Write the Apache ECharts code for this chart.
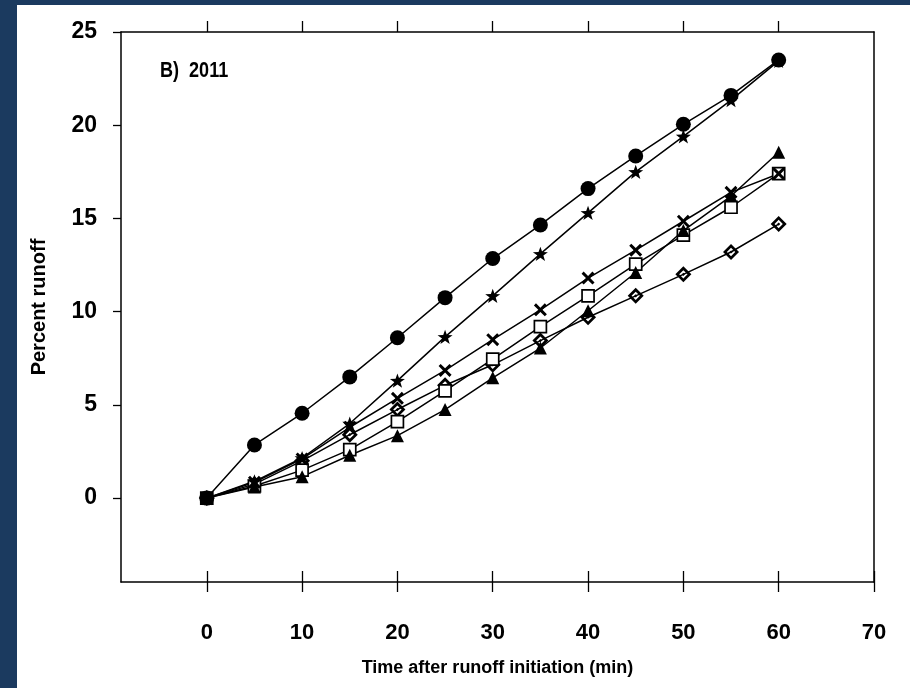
<!DOCTYPE html>
<html>
<head>
<meta charset="utf-8">
<script src="https://cdn.jsdelivr.net/npm/echarts@6/dist/echarts.min.js"></script>
<style>html,body{margin:0;padding:0;background:#fff;}#c{width:910px;height:688px;}</style>
</head>
<body>
<div id="c"></div>
<script>
var times = [0, 5, 10, 15, 20, 25, 30, 35, 40, 45, 50, 55, 60];
var circleVals   = [0, 2.85, 4.55, 6.5, 8.6, 10.75, 12.85, 14.65, 16.6, 18.35, 20.05, 21.6, 23.5];
var starVals     = [0, 0.9, 2.15, 4.0, 6.3, 8.65, 10.85, 13.1, 15.3, 17.5, 19.4, 21.35, 23.45];
var crossVals    = [0, 0.85, 2.1, 3.8, 5.35, 6.85, 8.5, 10.1, 11.8, 13.3, 14.85, 16.4, 17.4];
var squareVals   = [0, 0.65, 1.5, 2.6, 4.1, 5.75, 7.45, 9.2, 10.85, 12.55, 14.1, 15.6, 17.4];
var triangleVals = [0, 0.6, 1.15, 2.3, 3.35, 4.75, 6.45, 8.05, 10.05, 12.1, 14.35, 16.2, 18.55];
var diamondVals  = [0, 0.75, 2.0, 3.4, 4.75, 6.05, 7.15, 8.45, 9.7, 10.85, 12.0, 13.2, 14.7];
var xTicks = [0, 10, 20, 30, 40, 50, 60, 70];
var xTopTicks = [0, 10, 20, 30, 40, 50, 60];
var yTicks = [0, 5, 10, 15, 20, 25];
var panelLabel = 'B)  2011';
var xName = 'Time after runoff initiation (min)';
var yName = 'Percent runoff';

var STAR = 'path://M50 0 L61.76 33.82 L97.55 34.55 L69.02 56.18 L79.39 90.45 L50 70 L20.61 90.45 L30.98 56.18 L2.45 34.55 L38.24 33.82 Z';
var CROSS = 'path://M0 16 L16 0 L50 34 L84 0 L100 16 L66 50 L100 84 L84 100 L50 66 L16 100 L0 84 L34 50 Z';
var DIAMOND = 'path://M50 0 L100 50 L50 100 L0 50 Z M50 24 L24 50 L50 76 L76 50 Z M50 40 L60 50 L50 60 L40 50 Z';

function pairs(v){ return times.map(function(t,i){ return [t, v[i]]; }); }
function mk(name, vals, symbol, size, fill){
  return {
    name: name, type: 'line', data: pairs(vals),
    symbol: symbol, symbolSize: size, symbolKeepAspect: true,
    lineStyle: {color: '#000', width: 1.5},
    itemStyle: {color: fill || '#000', borderColor: '#000', borderWidth: fill ? 1.7 : 0},
    emphasis: {disabled: true}, animation: false
  };
}
var F = 'Liberation Sans, Arial, sans-serif';
var chart = echarts.init(document.getElementById('c'), null, {renderer: 'canvas'});
chart.setOption({
  backgroundColor: '#ffffff',
  animation: false,
  graphic: [
    {type: 'rect', left: 0, top: 0, shape: {width: 17, height: 688}, style: {fill: '#1b3a5f'}, z: 100},
    {type: 'rect', left: 0, top: 0, shape: {width: 910, height: 5}, style: {fill: '#1b3a5f'}, z: 100},
    {type: 'text', x: 160, y: 60, scaleX: 0.82, style: {text: panelLabel, font: 'bold 22px ' + F, fill: '#000'}}
  ],
  grid: {left: 121, right: 36, top: 32, bottom: 106, containLabel: false},
  xAxis: [
    {type: 'value', position: 'bottom', min: -9, max: 70,
     axisLine: {show: true, onZero: false, lineStyle: {color: '#000', width: 1.5}},
     axisTick: {show: true, customValues: xTicks, length: 10, lineStyle: {color: '#000', width: 1.3}},
     axisLabel: {show: true, customValues: xTicks, margin: 40, color: '#000', fontSize: 22, fontWeight: 'bold', fontFamily: F},
     splitLine: {show: false},
     name: xName, nameLocation: 'middle', nameGap: 77,
     nameTextStyle: {color: '#000', fontSize: 18, fontWeight: 'bold', fontFamily: F}},
    {type: 'value', position: 'bottom', min: -9, max: 70,
     axisLine: {show: false, onZero: false},
     axisTick: {show: true, inside: true, customValues: xTicks, length: 11, lineStyle: {color: '#000', width: 1.3}},
     axisLabel: {show: false}, splitLine: {show: false}},
    {type: 'value', position: 'top', min: -9, max: 70,
     axisLine: {show: true, onZero: false, lineStyle: {color: '#000', width: 1.5}},
     axisTick: {show: true, customValues: xTopTicks, length: 11, lineStyle: {color: '#000', width: 1.3}},
     axisLabel: {show: false}, splitLine: {show: false}}
  ],
  yAxis: [
    {type: 'value', position: 'left', min: -4.5, max: 25,
     axisLine: {show: true, onZero: false, lineStyle: {color: '#000', width: 1.5}},
     axisTick: {show: true, customValues: yTicks, length: 8, lineStyle: {color: '#000', width: 1.3}},
     axisLabel: {show: true, customValues: yTicks, margin: 24, color: '#000', fontSize: 23, fontWeight: 'bold', fontFamily: F},
     splitLine: {show: false},
     name: yName, nameLocation: 'middle', nameGap: 72,
     nameTextStyle: {color: '#000', fontSize: 20, fontWeight: 'bold', fontFamily: F}},
    {type: 'value', position: 'right', min: -4.5, max: 25,
     axisLine: {show: true, onZero: false, lineStyle: {color: '#000', width: 1.5}},
     axisTick: {show: false}, axisLabel: {show: false}, splitLine: {show: false}}
  ],
  series: [
    mk('diamond', diamondVals, DIAMOND, 16),
    mk('square', squareVals, 'rect', 12, '#fff'),
    mk('triangle', triangleVals, 'triangle', 13),
    mk('cross', crossVals, CROSS, 13),
    mk('star', starVals, STAR, 15),
    mk('circle', circleVals, 'circle', 15)
  ]
});
</script>
</body>
</html>
